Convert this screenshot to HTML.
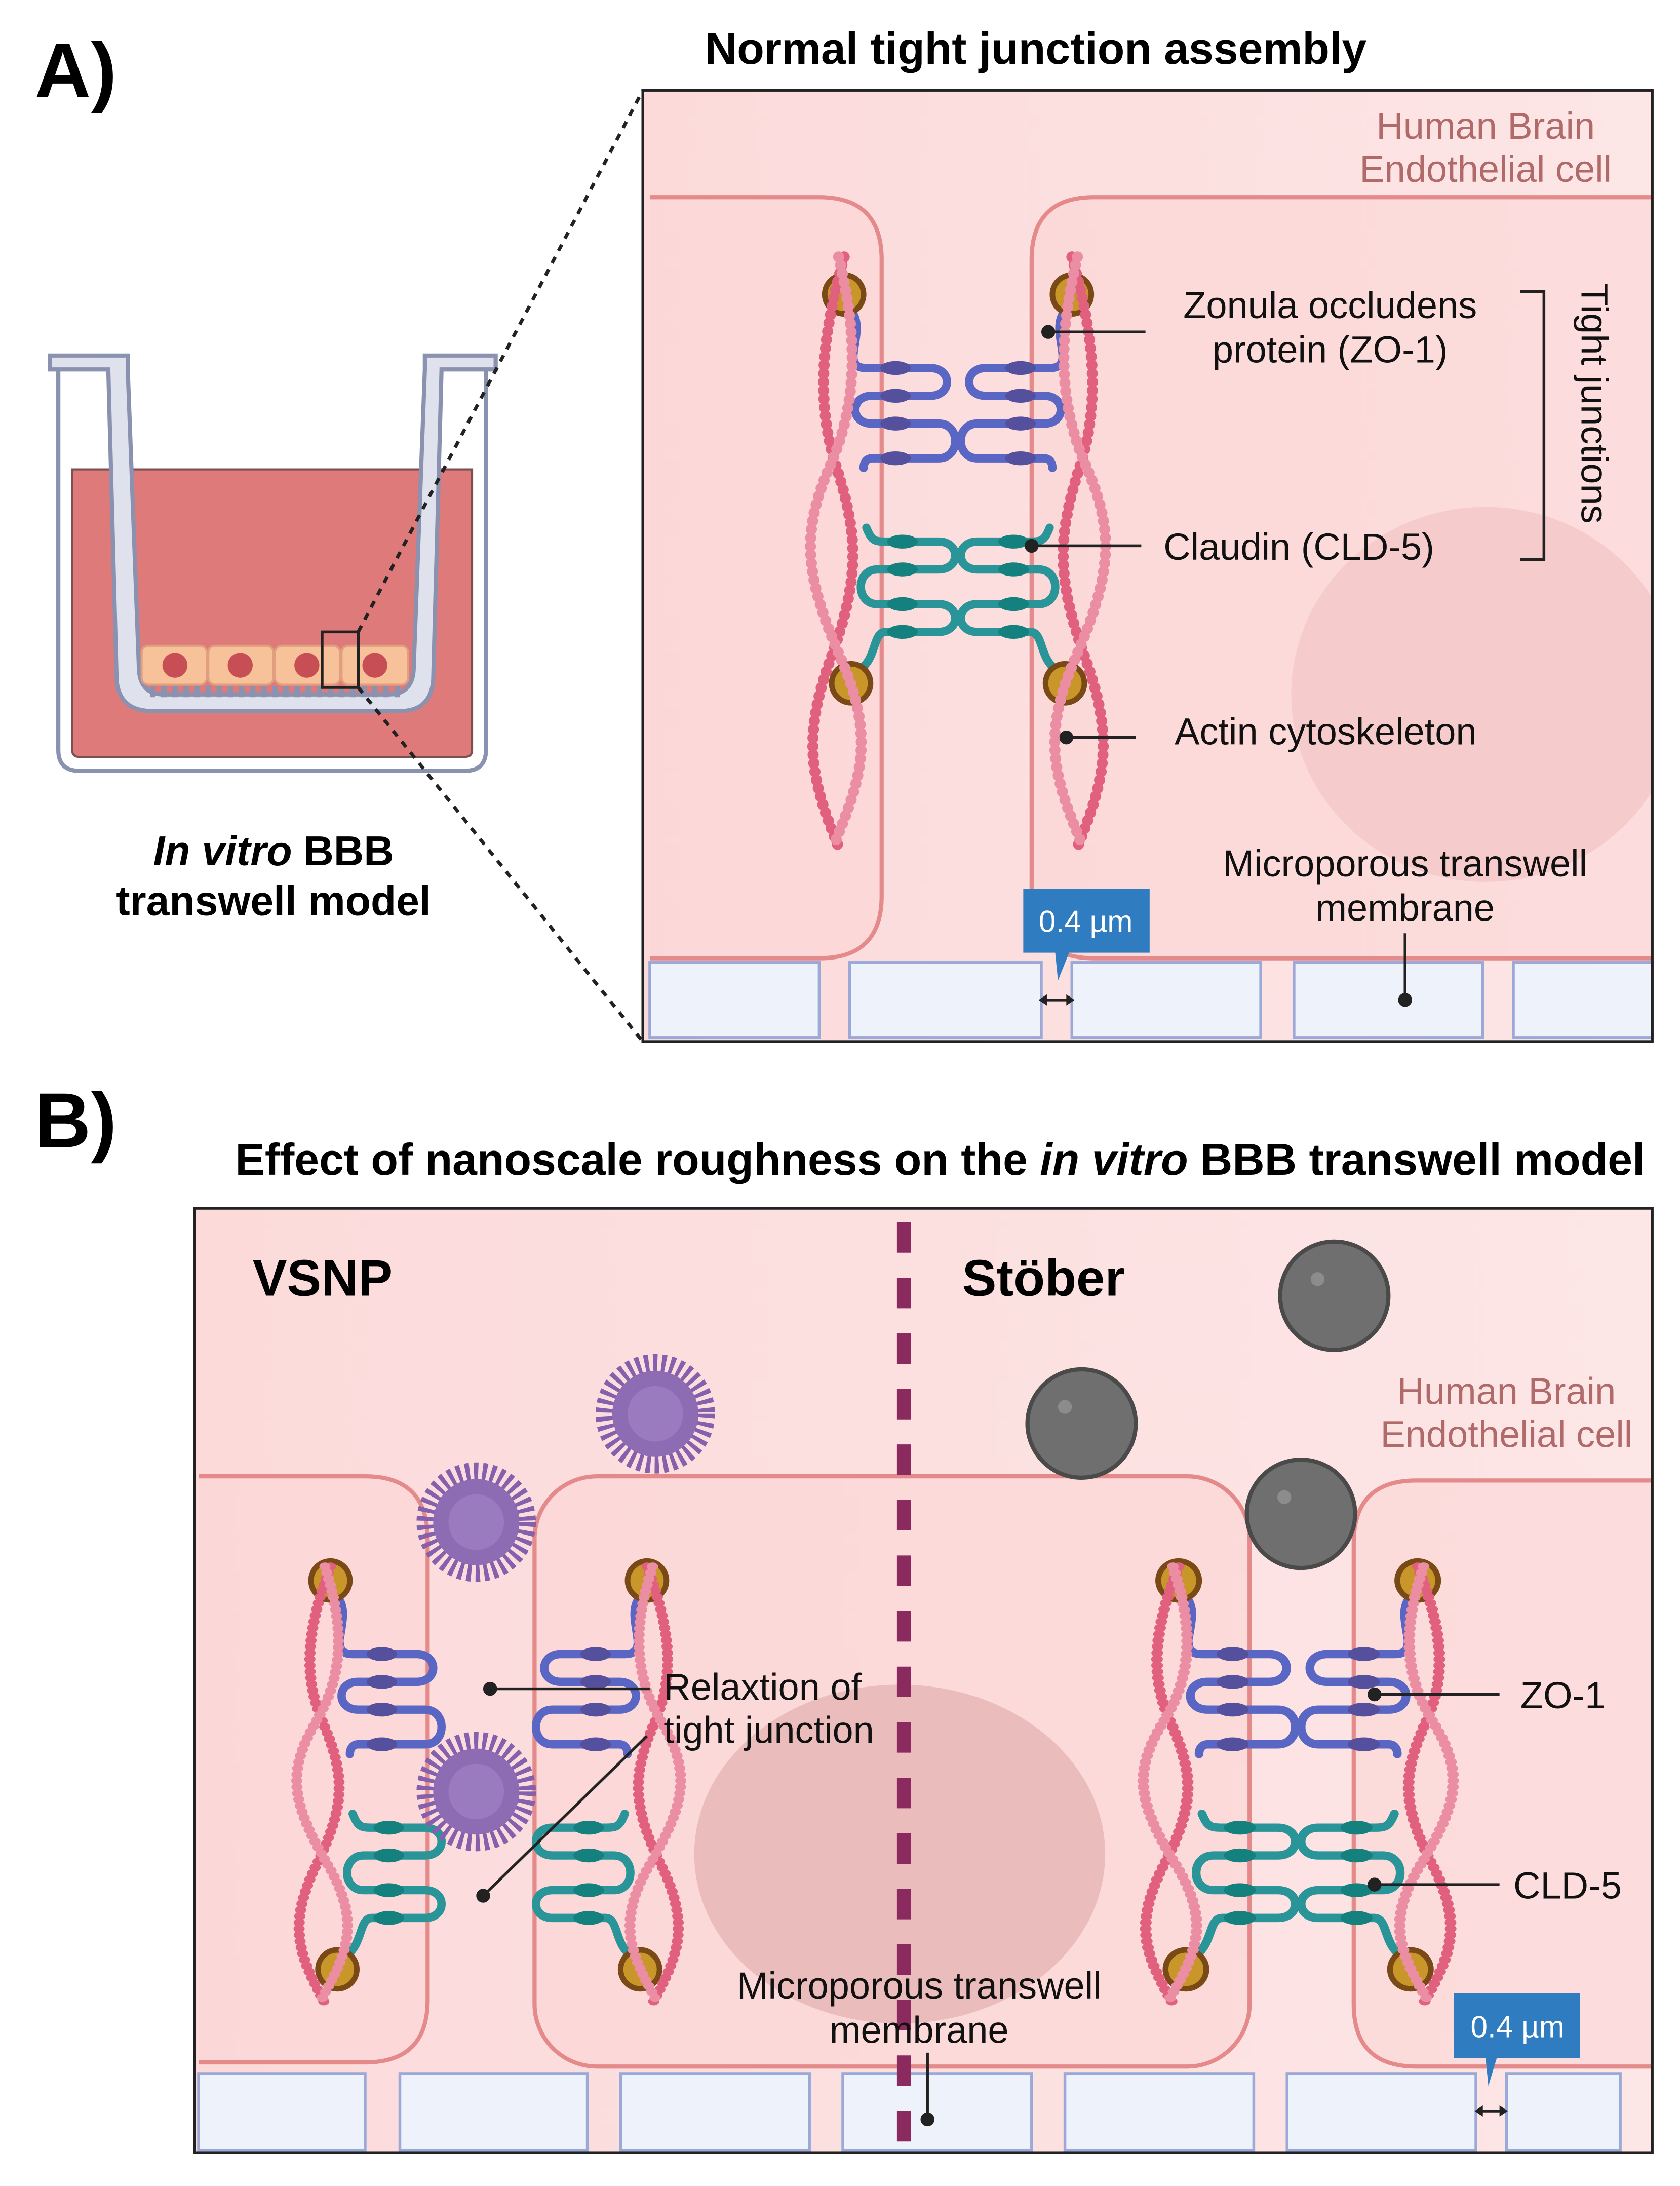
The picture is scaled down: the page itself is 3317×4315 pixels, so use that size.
<!DOCTYPE html>
<html><head><meta charset="utf-8"><style>
html,body{margin:0;padding:0;background:#fff}
svg{display:block}
text{font-family:"Liberation Sans",Arial,sans-serif}
</style></head><body>
<svg width="3317" height="4315" viewBox="0 0 1210 1574" preserveAspectRatio="none" xmlns="http://www.w3.org/2000/svg">
<defs>
<linearGradient id="bgA" x1="0" x2="1"><stop offset="0" stop-color="#fcdada"/><stop offset="1" stop-color="#fde6e6"/></linearGradient>
<clipPath id="clipA"><rect x="463" y="65" width="727" height="685"/></clipPath>
<g id="actin">
  <path d="M-82,0 C-96,50 -104,100 -88,150 S-70,230 -92,290 S-104,380 -86,425" fill="none" stroke="#e0607e" stroke-width="8" stroke-linecap="round" stroke-dasharray="0.1 6"/>
  <path d="M-86,0 C-74,50 -70,100 -92,150 S-110,230 -84,290 S-72,380 -90,425" fill="none" stroke="#eb8ea4" stroke-width="8" stroke-linecap="round" stroke-dasharray="0.1 6"/>
</g>
<g id="prot">
  <path d="M-76,40 C-66,55 -86,80 -66,80 L-20,80 C-4,80 -4,100 -20,100 L-62,100 C-78,100 -78,120 -62,120 L-14,120 C2,120 2,145 -14,145 L-62,145 C-66,145 -68,148 -68,152" fill="none" stroke="#5a66c4" stroke-width="6" stroke-linecap="round"/>
  <g fill="#55509e"><ellipse cx="-45" cy="80" rx="11" ry="5"/><ellipse cx="-45" cy="100" rx="11" ry="5"/><ellipse cx="-45" cy="120" rx="11" ry="5"/><ellipse cx="-45" cy="145" rx="11" ry="5"/></g>
  <path d="M-66,195 C-62,205 -60,205 -50,205 L-14,205 C2,205 2,225 -14,225 L-58,225 C-74,225 -74,250 -58,250 L-14,250 C2,250 2,270 -14,270 L-52,270 C-62,270 -58,290 -72,298" fill="none" stroke="#2a9598" stroke-width="6" stroke-linecap="round"/>
  <g fill="#14817f"><ellipse cx="-40" cy="205" rx="11" ry="5"/><ellipse cx="-40" cy="225" rx="11" ry="5"/><ellipse cx="-40" cy="250" rx="11" ry="5"/><ellipse cx="-40" cy="270" rx="11" ry="5"/></g>
</g>
<g id="anch">
  <circle cx="-82" cy="27" r="14" fill="#c9962a" stroke="#7a4a16" stroke-width="4"/>
  <circle cx="-77" cy="307" r="14" fill="#c9962a" stroke="#7a4a16" stroke-width="4"/>
</g>
<g id="prot2"><use href="#prot"/><use href="#prot" transform="scale(-1,1)"/></g>
<g id="anch2"><use href="#anch"/><use href="#anch" transform="scale(-1,1)"/></g>
<g id="actin2"><use href="#actin"/><use href="#actin" transform="scale(-1,1)"/></g>
<g id="spiky"><circle r="36" fill="none" stroke="#8560ad" stroke-width="14" stroke-dasharray="3 3"/><circle r="31" fill="#8d6cb3"/><circle r="20" fill="#9a7bc0"/></g>
<g id="ball"><circle r="39" fill="#6f6f6f" stroke="#4a4a4a" stroke-width="3"/><circle cx="-12" cy="-12" r="5" fill="#8c8c8c"/></g>
</defs>

<!-- Labels -->
<text x="25" y="70" font-size="56" font-weight="bold">A)</text>
<text x="25" y="826" font-size="56" font-weight="bold">B)</text>
<text x="746" y="46" font-size="32" font-weight="bold" text-anchor="middle">Normal tight junction assembly</text>

<!-- Transwell -->
<path d="M42,262 L42,540 Q42,555 57,555 L335,555 Q350,555 350,540 L350,262" fill="#fff" stroke="#8a92b0" stroke-width="3"/>
<path d="M52,338 L340,338 L340,540 Q340,545 335,545 L57,545 Q52,545 52,540 Z" fill="#df7a7a" stroke="#7a5050" stroke-width="1.5"/>
<path d="M36,256 L92,256 L92,266 L100,480 Q100,500 118,500 L280,500 Q298,500 298,480 L306,266 L306,256 L357,256 L357,266 L318,266 L312,490 Q310,512 288,512 L110,512 Q86,512 84,490 L78,266 L36,266 Z" fill="#dfe2ec" stroke="#8a92b0" stroke-width="3"/>
<g fill="#f7c19a" stroke="#e0a080" stroke-width="1.5">
<rect x="102" y="465" width="47" height="28" rx="5"/><rect x="150" y="465" width="47" height="28" rx="5"/><rect x="198" y="465" width="47" height="28" rx="5"/><rect x="246" y="465" width="48" height="28" rx="5"/></g>
<g fill="#c84e55"><circle cx="126" cy="479" r="9"/><circle cx="173" cy="479" r="9"/><circle cx="221" cy="479" r="9"/><circle cx="270" cy="479" r="9"/></g>
<line x1="108" y1="498" x2="292" y2="498" stroke="#8a92b0" stroke-width="8" stroke-dasharray="4 4"/>
<rect x="232" y="455" width="26" height="40" fill="none" stroke="#222" stroke-width="2"/>
<line x1="258" y1="455" x2="463" y2="65" stroke="#222" stroke-width="2.5" stroke-dasharray="5 5"/>
<line x1="258" y1="495" x2="463" y2="750" stroke="#222" stroke-width="2.5" stroke-dasharray="5 5"/>
<text x="197" y="623" font-size="30" font-weight="bold" text-anchor="middle"><tspan font-style="italic">In vitro</tspan> BBB</text>
<text x="197" y="659" font-size="30" font-weight="bold" text-anchor="middle">transwell model</text>

<!-- Panel A -->
<rect x="463" y="65" width="727" height="685" fill="url(#bgA)"/>
<ellipse cx="1070" cy="500" rx="140" ry="135" fill="#ebbcbc" clip-path="url(#clipA)"/>
<path d="M468,142 L590,142 Q635,142 635,187 L635,645 Q635,690 590,690 L468,690" fill="#fcd6d6" fill-opacity="0.6" stroke="#e58a8a" stroke-width="3"/>
<path d="M1190,142 L788,142 Q743,142 743,187 L743,645 Q743,690 788,690 L1190,690" fill="#fcd6d6" fill-opacity="0.6" stroke="#e58a8a" stroke-width="3"/>
<g transform="translate(690,185)"><use href="#prot2"/><use href="#anch2"/><use href="#actin2"/></g>
<g fill="#eef3fb" stroke="#9aa9d8" stroke-width="2">
<rect x="468" y="693" width="122" height="54"/><rect x="612" y="693" width="138" height="54"/><rect x="772" y="693" width="136" height="54"/><rect x="932" y="693" width="136" height="54"/><rect x="1090" y="693" width="100" height="54"/></g>
<rect x="463" y="65" width="727" height="685" fill="none" stroke="#222" stroke-width="2"/>
<g font-size="27" fill="#b06a6a" text-anchor="middle"><text x="1070" y="100">Human Brain</text><text x="1070" y="131">Endothelial cell</text></g>
<g font-size="27" fill="#111">
<text x="958" y="229" text-anchor="middle">Zonula occludens</text><text x="958" y="261" text-anchor="middle">protein (ZO-1)</text>
<text x="838" y="403">Claudin (CLD-5)</text>
<text x="846" y="536">Actin cytoskeleton</text>
<text x="1012" y="631" text-anchor="middle">Microporous transwell</text><text x="1012" y="663" text-anchor="middle">membrane</text>
<text transform="translate(1139,204) rotate(90)" font-size="27">Tight junctions</text>
</g>
<g stroke="#222" stroke-width="2" fill="#222">
<line x1="755" y1="239" x2="825" y2="239"/><circle cx="755" cy="239" r="4"/>
<line x1="743" y1="393" x2="822" y2="393"/><circle cx="743" cy="393" r="4"/>
<line x1="768" y1="531" x2="818" y2="531"/><circle cx="768" cy="531" r="4"/>
<line x1="1012" y1="672" x2="1012" y2="718"/><circle cx="1012" cy="720" r="4"/>
<path d="M1095,210 L1112,210 L1112,403 L1095,403" fill="none"/>
<line x1="752" y1="720" x2="770" y2="720"/>
</g>
<path d="M748,720 l6,-4 v8 z M774,720 l-6,-4 v8 z" fill="#222"/>
<path d="M737,640 h91 v46 h-58 l-8,20 l-2,-20 h-23 z" fill="#2f7cc1"/>
<text x="782" y="671" font-size="22" fill="#fff" text-anchor="middle">0.4 µm</text>

<!-- Panel B -->
<text x="677" y="846" font-size="32" font-weight="bold" text-anchor="middle">Effect of nanoscale roughness on the <tspan font-style="italic">in vitro</tspan> BBB transwell model</text>
<rect x="140" y="870" width="1050" height="680" fill="url(#bgA)"/>
<path d="M143,1063 L263,1063 Q308,1063 308,1108 L308,1440 Q308,1485 263,1485 L143,1485" fill="#fcd6d6" fill-opacity="0.6" stroke="#e58a8a" stroke-width="3"/>
<rect x="385" y="1063" width="515" height="425" rx="45" fill="#fcd6d6" fill-opacity="0.6" stroke="#e58a8a" stroke-width="3"/>
<path d="M1190,1066 L1020,1066 Q975,1066 975,1111 L975,1443 Q975,1488 1020,1488 L1190,1488" fill="#fcd6d6" fill-opacity="0.6" stroke="#e58a8a" stroke-width="3"/>
<ellipse cx="648" cy="1335" rx="148" ry="122" fill="#ebbcbc"/>
<!-- B left relaxed junction -->
<g transform="translate(320,1111)"><use href="#prot"/><use href="#anch"/></g>
<g transform="translate(320,1128) scale(1,0.74)"><use href="#actin"/></g>
<g transform="translate(384,1111) scale(-1,1)"><use href="#prot"/><use href="#anch"/></g>
<g transform="translate(384,1128) scale(-1,0.74)"><use href="#actin"/></g>
<!-- B right junction -->
<g transform="translate(935,1111) scale(1.05,1)"><use href="#prot2"/><use href="#anch2"/></g>
<g transform="translate(935,1128) scale(1.05,0.74)"><use href="#actin2"/></g>
<g fill="#eef3fb" stroke="#9aa9d8" stroke-width="2">
<rect x="143" y="1493" width="120" height="55"/><rect x="288" y="1493" width="135" height="55"/><rect x="447" y="1493" width="136" height="55"/><rect x="607" y="1493" width="136" height="55"/><rect x="767" y="1493" width="136" height="55"/><rect x="927" y="1493" width="136" height="55"/><rect x="1085" y="1493" width="82" height="55"/></g>
<line x1="651" y1="880" x2="651" y2="1550" stroke="#8b2a5e" stroke-width="10" stroke-dasharray="22 18"/>
<use href="#spiky" transform="translate(472,1018)"/>
<use href="#spiky" transform="translate(343,1096)"/>
<use href="#spiky" transform="translate(343,1290)"/>
<use href="#ball" transform="translate(961,933)"/>
<use href="#ball" transform="translate(779,1025)"/>
<use href="#ball" transform="translate(937,1090)"/>
<rect x="140" y="870" width="1050" height="680" fill="none" stroke="#222" stroke-width="2"/>
<text x="182" y="933" font-size="37" font-weight="bold">VSNP</text>
<text x="693" y="933" font-size="37" font-weight="bold">Stöber</text>
<g font-size="27" fill="#b06a6a" text-anchor="middle"><text x="1085" y="1011">Human Brain</text><text x="1085" y="1042">Endothelial cell</text></g>
<g font-size="27" fill="#111">
<text x="478" y="1224">Relaxtion of</text><text x="478" y="1255">tight junction</text>
<text x="1095" y="1230">ZO-1</text><text x="1090" y="1367">CLD-5</text>
<text x="662" y="1439" text-anchor="middle">Microporous transwell</text><text x="662" y="1471" text-anchor="middle">membrane</text>
</g>
<g stroke="#222" stroke-width="2" fill="#222">
<line x1="353" y1="1216" x2="468" y2="1216"/><circle cx="353" cy="1216" r="4"/>
<line x1="348" y1="1365" x2="466" y2="1250"/><circle cx="348" cy="1365" r="4"/>
<line x1="990" y1="1220" x2="1080" y2="1220"/><circle cx="990" cy="1220" r="4"/>
<line x1="990" y1="1357" x2="1080" y2="1357"/><circle cx="990" cy="1357" r="4"/>
<line x1="668" y1="1478" x2="668" y2="1524"/><circle cx="668" cy="1526" r="4"/>
<line x1="1066" y1="1520" x2="1082" y2="1520"/>
</g>
<path d="M1062,1520 l6,-4 v8 z M1086,1520 l-6,-4 v8 z" fill="#222"/>
<path d="M1047,1435 h91 v47 h-60 l-6,20 l-2,-20 h-23 z" fill="#2f7cc1"/>
<text x="1093" y="1467" font-size="22" fill="#fff" text-anchor="middle">0.4 µm</text>
</svg>
</body></html>
